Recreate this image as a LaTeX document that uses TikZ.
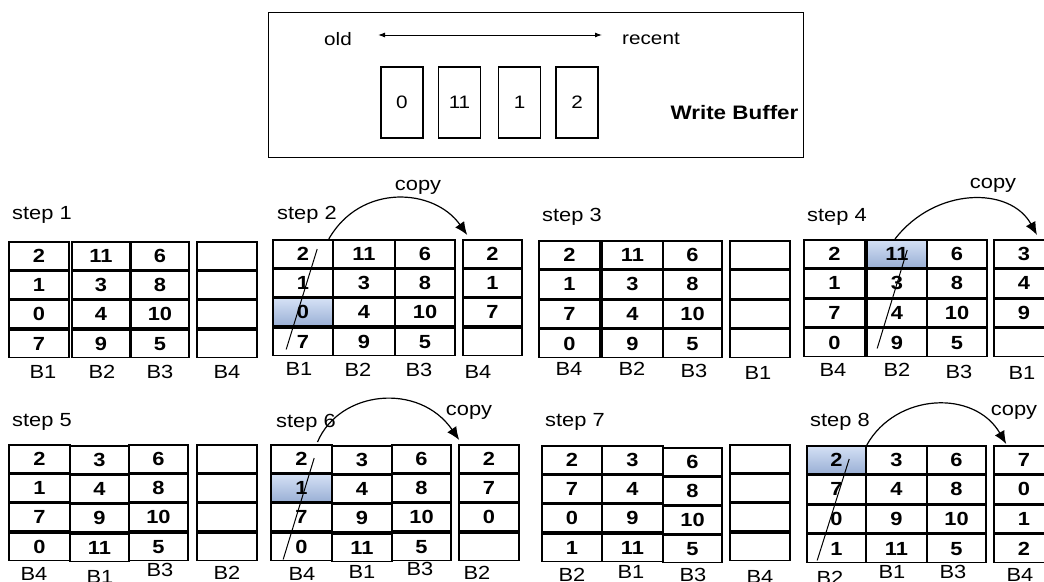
\documentclass[tikz,border=0pt]{standalone}
\usepackage{fontspec}
\setmainfont{Liberation Sans}[FakeStretch=1.15]
\usetikzlibrary{arrows.meta,backgrounds}
\definecolor{hltop}{RGB}{214,226,246}
\definecolor{hlbot}{RGB}{152,174,212}
\tikzset{
  cell/.style={draw, line width=1.6pt, inner sep=0pt, anchor=north,
    font=\fontsize{19}{22}\selectfont\bfseries},
  lbl/.style={inner sep=0pt, font=\fontsize{19}{22}\selectfont},
  hl/.style={top color=hltop, bottom color=hlbot},
  copyarrow/.style={line width=1.2pt, -{Latex[length=13pt,width=11pt]}},
  slash/.style={line width=1pt},
  wbox/.style={draw, line width=1.2pt, minimum width=42pt, minimum height=71pt,
    inner sep=0pt, font=\fontsize{18}{22}\selectfont},
}
\newcommand{\bcol}[9]{%
  \pgfmathsetmacro{\bcw}{#3-#2}%
  \pgfmathsetmacro{\bch}{(#5-#4)/4}%
  \node[cell, minimum width=\bcw pt, minimum height=\bch pt] (#1-1) at ({(#2+#3)/2},#4) {#6};
  \node[cell, minimum width=\bcw pt, minimum height=\bch pt] (#1-2) at (#1-1.south) {#7};
  \node[cell, minimum width=\bcw pt, minimum height=\bch pt] (#1-3) at (#1-2.south) {#8};
  \node[cell, minimum width=\bcw pt, minimum height=\bch pt] (#1-4) at (#1-3.south) {#9};
}
\begin{document}
\begin{tikzpicture}[x=1pt,y=-1pt]
\useasboundingbox (0,0) rectangle (1044,581);

% write buffer
\node[draw, line width=1.2pt, minimum width=535pt, minimum height=145pt, inner sep=0pt, anchor=north west] (wb) at (268,12) {};
\node[lbl, font=\fontsize{18}{22}\selectfont] (old) at (338,39) {old};
\node[lbl, font=\fontsize{18}{22}\selectfont] (recent) at (651,39) {recent};
\coordinate (al) at (378,35);
\coordinate (ar) at (602,35);
\draw[line width=1pt, {Latex[length=7pt,width=5pt]}-{Latex[length=7pt,width=5pt]}] (al) -- (ar);
\node[wbox] (q1) at (402,102.5) {0};
\node[wbox] (q2) at (459.5,102.5) {11};
\node[wbox] (q3) at (519.5,102.5) {1};
\node[wbox] (q4) at (577,102.5) {2};
\node[lbl, font=\fontsize{19.5}{22}\selectfont\bfseries] (wbt) at (734.5,112.5) {Write Buffer};

% step 1
\node[lbl] (st1) at (42,215) {step 1};
\bcol{s1a}{9}{69}{241}{352}{2}{1}{0}{7}
\bcol{s1b}{72}{130}{241}{352}{11}{3}{4}{9}
\bcol{s1c}{131}{189}{241}{352}{6}{8}{10}{5}
\bcol{s1d}{197}{257}{241}{352}{}{}{}{}
\node[lbl] (l1a) at (43,372) {B1};
\node[lbl] (l1b) at (102,372) {B2};
\node[lbl] (l1c) at (160,372) {B3};
\node[lbl] (l1d) at (227,372) {B4};

% step 2
\node[lbl] (st2) at (307,215) {step 2};
\node[lbl] (cp2) at (418,187) {copy};
\bcol{s2a}{273}{333}{239}{350}{2}{1}{0}{7}
\bcol{s2b}{333}{395}{239}{350}{11}{3}{4}{9}
\bcol{s2c}{395}{455}{239}{350}{6}{8}{10}{5}
\bcol{s2d}{463}{522}{239}{350}{2}{1}{7}{}
\node[lbl] (l2a) at (299,369) {B1};
\node[lbl] (l2b) at (358,370) {B2};
\node[lbl] (l2c) at (419,370) {B3};
\node[lbl] (l2d) at (478,372) {B4};
\begin{scope}[on background layer]
\shade[hl] (s2a-3.north west) rectangle (s2a-3.south east);
\end{scope}
\draw[slash] ([xshift=14pt,yshift=7pt]s2a-4.south west) -- ([xshift=45pt,yshift=-10pt]s2a-1.north west);
\draw[copyarrow] ([xshift=-5pt]s2a-1.north east) .. controls +(32,-56) and +(-33,-47) .. ([xshift=5pt,yshift=4pt]s2d-1.north west);

% step 3
\node[lbl] (st3) at (572,217) {step 3};
\bcol{s3a}{539}{600}{240}{352}{2}{1}{7}{0}
\bcol{s3b}{602}{663}{240}{352}{11}{3}{4}{9}
\bcol{s3c}{663}{722}{240}{352}{6}{8}{10}{5}
\bcol{s3d}{730}{790}{240}{352}{}{}{}{}
\node[lbl] (l3a) at (569,369) {B4};
\node[lbl] (l3b) at (632,369) {B2};
\node[lbl] (l3c) at (694,371) {B3};
\node[lbl] (l3d) at (758,373) {B1};

% step 4
\node[lbl] (st4) at (837,217) {step 4};
\node[lbl] (cp4) at (993,185) {copy};
\bcol{s4a}{804}{865}{239}{351}{2}{1}{7}{0}
\bcol{s4b}{867}{927}{239}{351}{11}{3}{4}{9}
\bcol{s4c}{927}{987}{239}{351}{6}{8}{10}{5}
\bcol{s4d}{994}{1054}{239}{351}{3}{4}{9}{}
\node[lbl] (l4a) at (833,370) {B4};
\node[lbl] (l4b) at (897,370) {B2};
\node[lbl] (l4c) at (959,372) {B3};
\node[lbl] (l4d) at (1022,373) {B1};
\begin{scope}[on background layer]
\shade[hl] (s4b-1.north west) rectangle (s4b-1.south east);
\end{scope}
\draw[slash] ([xshift=11pt,yshift=9pt]s4b-4.south west) -- ([xshift=41pt,yshift=-11pt]s4b-1.north west);
\draw[copyarrow] ([xshift=-2pt]s4b-1.north) .. controls +(40,-52) and +(-27,-49) .. ([xshift=13pt,yshift=4pt]s4d-1.north);

% step 5
\node[lbl] (st5) at (42,422) {step 5};
\bcol{s5a}{9}{70}{444}{555}{2}{1}{7}{0}
\bcol{s5b}{70}{129}{445}{556}{3}{4}{9}{11}
\bcol{s5c}{129}{188}{444}{555}{6}{8}{10}{5}
\bcol{s5d}{197}{257}{444}{555}{}{}{}{}
\node[lbl] (l5a) at (34,574) {B4};
\node[lbl] (l5b) at (100,577) {B1};
\node[lbl] (l5c) at (160,570) {B3};
\node[lbl] (l5d) at (227,573) {B2};

% step 6
\node[lbl] (st6) at (306,423) {step 6};
\node[lbl] (cp6) at (469,412) {copy};
\bcol{s6a}{271}{332}{444}{555}{2}{1}{7}{0}
\bcol{s6b}{332}{392}{445}{556}{3}{4}{9}{11}
\bcol{s6c}{392}{451}{444}{555}{6}{8}{10}{5}
\bcol{s6d}{459}{519}{444}{555}{2}{7}{0}{}
\node[lbl] (l6a) at (302,574) {B4};
\node[lbl] (l6b) at (362,572) {B1};
\node[lbl] (l6c) at (420,569) {B3};
\node[lbl] (l6d) at (477,573) {B2};
\begin{scope}[on background layer]
\shade[hl] (s6a-2.north west) rectangle (s6a-2.south east);
\end{scope}
\draw[slash] ([xshift=13pt,yshift=2pt]s6a-4.south west) -- ([xshift=44pt,yshift=-14pt]s6a-1.north west);
\draw[copyarrow] ([xshift=16pt,yshift=2pt]s6a-1.north) .. controls +(22,-52) and +(-40,-58) .. ([xshift=1pt,yshift=4pt]s6d-1.north west);

% step 7
\node[lbl] (st7) at (575,422) {step 7};
\bcol{s7a}{542}{602}{445}{556}{2}{7}{0}{1}
\bcol{s7b}{602}{663}{445}{556}{3}{4}{9}{11}
\bcol{s7c}{663}{722}{447}{557}{6}{8}{10}{5}
\bcol{s7d}{730}{790}{444}{555}{}{}{}{}
\node[lbl] (l7a) at (572,575) {B2};
\node[lbl] (l7b) at (631,572) {B1};
\node[lbl] (l7c) at (693,575) {B3};
\node[lbl] (l7d) at (760,577) {B4};

% step 8
\node[lbl] (st8) at (840,422) {step 8};
\node[lbl] (cp8) at (1014,412) {copy};
\bcol{s8a}{807}{866}{445}{557}{2}{7}{0}{1}
\bcol{s8b}{866}{927}{445}{557}{3}{4}{9}{11}
\bcol{s8c}{927}{986}{445}{557}{6}{8}{10}{5}
\bcol{s8d}{994}{1054}{445}{557}{7}{0}{1}{2}
\node[lbl] (l8a) at (830,578) {B2};
\node[lbl] (l8b) at (892,572) {B1};
\node[lbl] (l8c) at (953,572) {B3};
\node[lbl] (l8d) at (1020,575) {B4};
\begin{scope}[on background layer]
\shade[hl] (s8a-1.north west) rectangle (s8a-1.south east);
\end{scope}
\draw[slash] ([xshift=11pt,yshift=3pt]s8a-4.south west) -- ([xshift=43pt,yshift=-14pt]s8a-1.north west);
\draw[copyarrow] (s8a-1.north east) .. controls +(29,-52) and +(-32,-55) .. ([xshift=13pt,yshift=1pt]s8d-1.north west);
\end{tikzpicture}
\end{document}
